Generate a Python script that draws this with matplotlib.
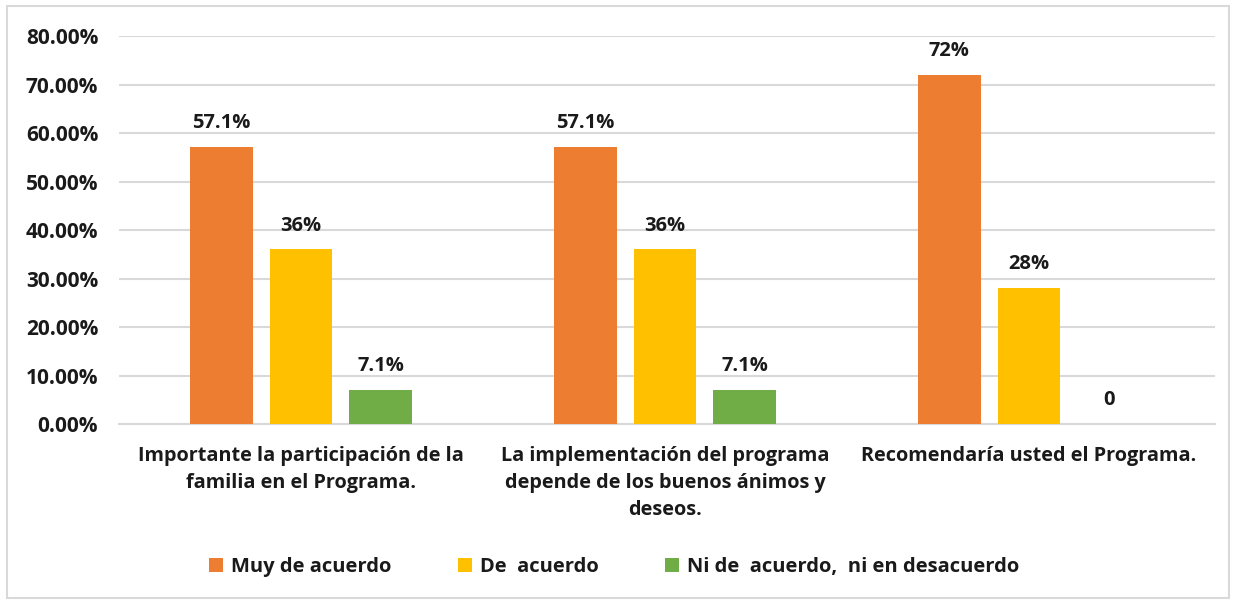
import numpy as np
import matplotlib.pyplot as plt
from matplotlib.patches import Rectangle
from matplotlib.ticker import FuncFormatter

plt.rcParams['font.family'] = ['Open Sans', 'DejaVu Sans']
plt.rcParams['font.weight'] = 'bold'

# Data
categories = ['Importante la participación de la\nfamilia en el Programa.',
              'La implementación del programa\ndepende de los buenos ánimos y\ndeseos.',
              'Recomendaría usted el Programa.']
series_names = ['Muy de acuerdo', 'De  acuerdo', 'Ni de  acuerdo,  ni en desacuerdo']
muy_de_acuerdo = [0.571, 0.571, 0.72]
de_acuerdo = [0.36, 0.36, 0.28]
ni_de_acuerdo = [0.071, 0.071, 0.0]
labels_muy = ['57.1%', '57.1%', '72%']
labels_de = ['36%', '36%', '28%']
labels_ni = ['7.1%', '7.1%', '0']

colors = ['#ED7D31', '#FFC000', '#70AD47']
txt = '#1a1a1a'

fig = plt.figure(figsize=(12.36, 6.01), dpi=100)
ax = fig.add_axes([119 / 1236, 0.2945, 1096 / 1236, 0.6455])

x = np.arange(len(categories))
width = 0.172
step = 0.219

all_vals = [muy_de_acuerdo, de_acuerdo, ni_de_acuerdo]
all_labels = [labels_muy, labels_de, labels_ni]
for i, (vals, labs) in enumerate(zip(all_vals, all_labels)):
    pos = x + (i - 1) * step
    bars = ax.bar(pos, vals, width, color=colors[i], label=series_names[i], zorder=3)
    for b, v, lab in zip(bars, vals, labs):
        ax.annotate(lab, (b.get_x() + b.get_width() / 2, v), xytext=(0, 10),
                    textcoords='offset points', ha='center', va='bottom',
                    fontsize=14.5, fontweight='bold', color=txt)

ax.set_xlim(-0.5, 2.511)
ax.set_ylim(0, 0.8)
ax.set_yticks(np.arange(0, 0.81, 0.1))
ax.yaxis.set_major_formatter(FuncFormatter(lambda v, p: f'{v * 100:.2f}%'))
ax.grid(axis='y', color='#d9d9d9', linewidth=1.5, zorder=0)
ax.set_xticks(x)
ax.set_xticklabels(categories, fontsize=14.3, fontweight='bold', color=txt,
                   linespacing=1.47, va='top')
ax.tick_params(axis='y', length=0, labelsize=15, pad=15, labelcolor=txt)
ax.tick_params(axis='x', length=0, pad=15.5)
for s in ['top', 'right', 'left']:
    ax.spines[s].set_visible(False)
ax.spines['bottom'].set_color('#d9d9d9')
ax.spines['bottom'].set_linewidth(1.5)

leg = fig.legend(loc='center', bbox_to_anchor=(0.497, 1 - 567 / 601), ncol=3,
                 frameon=False, fontsize=14.5, handlelength=0.7, handleheight=0.7,
                 handletextpad=0.4, columnspacing=3.3)
for t in leg.get_texts():
    t.set_color(txt)

fig.patches.append(Rectangle((7 / 1236, 3 / 601), 1222 / 1236, 592 / 601,
                             transform=fig.transFigure, fill=False,
                             edgecolor='#d9d9d9', linewidth=1.5))

fig.savefig('out.png', dpi=100, facecolor='white')
